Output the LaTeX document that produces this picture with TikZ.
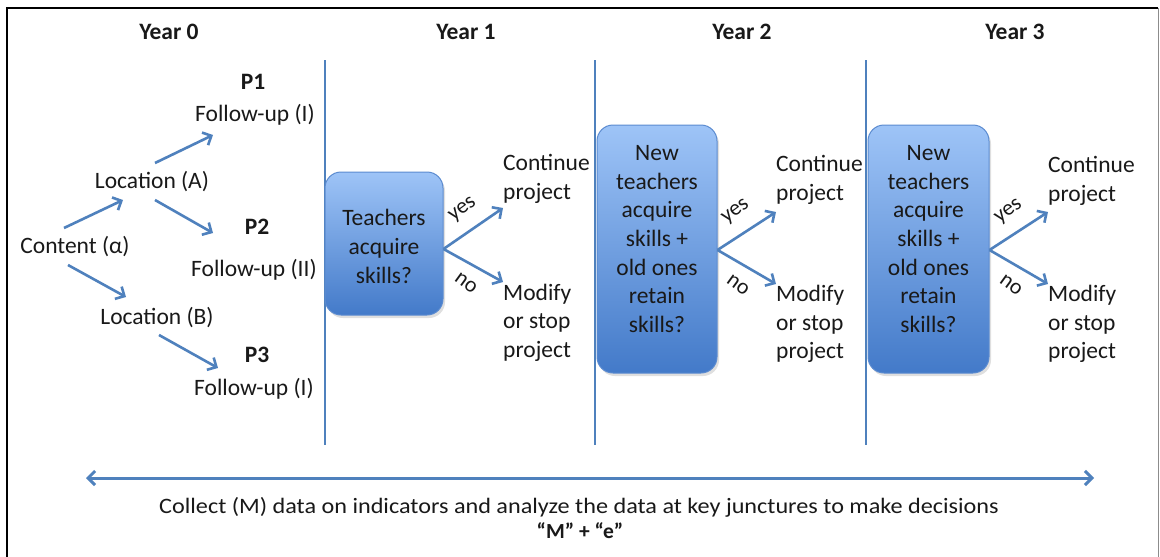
\documentclass[tikz,border=0pt]{standalone}
\usepackage{fontspec}
\setmainfont{Carlito}
\usetikzlibrary{arrows.meta,calc,shadows}
\definecolor{arrblue}{HTML}{4F81BD}
\definecolor{boxtop}{HTML}{9EC4F7}
\definecolor{boxbot}{HTML}{437AC9}
\definecolor{boxedge}{HTML}{5B8BD0}
\tikzset{
  txt/.style={inner sep=0pt, font=\fontsize{23.5}{28.6}\selectfont, text=black!90},
  btxt/.style={txt, font=\fontsize{23.5}{28.6}\selectfont\bfseries},
  arr/.style={draw=arrblue, line width=2.6pt, -{Straight Barb[length=7pt,width=14pt]}},
  divider/.style={draw=arrblue, line width=2.8pt},
  qbox/.style={draw=boxedge, line width=1pt, rounded corners=16pt, top color=boxtop, bottom color=boxbot,
    drop shadow={shadow xshift=2pt, shadow yshift=-3pt, opacity=0.25}},
  yn/.style={txt, font=\fontsize{22}{26}\selectfont},
  outc/.style={txt, align=left, anchor=west},
}
\begin{document}
\begin{tikzpicture}[x=1pt,y=-1pt]
\useasboundingbox (0,0) rectangle (1160,557);
\fill[white] (0,0) rectangle (1160,557);
% frame
\draw[black, line width=2.6pt] (7,557) -- (7,8) -- (1158,8);
\draw[black!45, line width=1pt] (1158.5,8) -- (1158.5,557);

% year headers
\node[btxt] (y0) at (169,32) {Year 0};
\node[btxt] (y1) at (466,32) {Year 1};
\node[btxt] (y2) at (742,32) {Year 2};
\node[btxt] (y3) at (1015,32) {Year 3};

% dividers
\draw[divider] (325,60) -- (325,445);
\draw[divider] (595,60) -- (595,445);
\draw[divider] (866,60) -- (866,445);

% year 0 tree
\node[btxt] (p1) at (253,82) {P1};
\node[txt] (f1) at (255,115) {Follow-up (I)};
\node[txt] (locA) at (152,182) {Location (A)};
\node[txt] (content) at (75,247) {Content (α)};
\node[btxt] (p2) at (257,227) {P2};
\node[txt] (f2) at (254,270) {Follow-up (II)};
\node[txt] (locB) at (157,318) {Location (B)};
\node[btxt] (p3) at (257,355) {P3};
\node[txt] (f3) at (254,389) {Follow-up (I)};

\draw[arr] ($(locA)+(3,-19)$) -- ($(f1)+(-42,20)$);
\draw[arr] ($(content)+(-11,-19)$) -- ($(locA)+(-29,18)$);
\draw[arr] ($(locA)+(3,18)$) -- ($(p2)+(-44,6)$);
\draw[arr] ($(content)+(-7,18)$) -- ($(locB)+(-31,-21)$);
\draw[arr] ($(locB)+(2,17)$) -- ($(p3)+(-39,13)$);

% year 1
\node[qbox, minimum width=118pt, minimum height=143pt] (box1) at (384,243.5) {};
\node[txt, align=center] (q1) at (384,246.5) {Teachers\\acquire\\skills?};
\coordinate (fk1) at ([yshift=-5.5pt]box1.east);
\coordinate (ye1) at (503,208);
\coordinate (no1) at (503,282);
\draw[arr] (fk1) -- (ye1);
\draw[arr] (fk1) -- (no1);
\node[yn, rotate=36] (yes1) at (463,210) {yes};
\node[yn, rotate=-36] (n1) at (466,283) {no};
\node[outc] (cont1) at (503,179) {Continue\\project};
\node[outc] (mod1) at (503,322.5) {Modify\\or stop\\project};

% year 2
\node[qbox, minimum width=120pt, minimum height=248pt] (box2) at (657,249) {};
\node[txt, align=center] (q2) at (657,239) {New\\teachers\\acquire\\skills +\\old ones\\retain\\skills?};
\coordinate (fk2) at ([yshift=-1pt]box2.east);
\coordinate (ye2) at (776,212);
\coordinate (no2) at (776,284);
\draw[arr] (fk2) -- (ye2);
\draw[arr] (fk2) -- (no2);
\node[yn, rotate=36] (yes2) at (736,212) {yes};
\node[yn, rotate=-36] (n2) at (738,285) {no};
\node[outc] (cont2) at (776,180) {Continue\\project};
\node[outc] (mod2) at (776,324) {Modify\\or stop\\project};

% year 3
\node[qbox, minimum width=121pt, minimum height=248pt] (box3) at (928.5,249) {};
\node[txt, align=center] (q3) at (928.5,239) {New\\teachers\\acquire\\skills +\\old ones\\retain\\skills?};
\coordinate (fk3) at ([yshift=-1pt]box3.east);
\coordinate (ye3) at (1048,212);
\coordinate (no3) at (1048,284);
\draw[arr] (fk3) -- (ye3);
\draw[arr] (fk3) -- (no3);
\node[yn, rotate=36] (yes3) at (1009,212) {yes};
\node[yn, rotate=-36] (n3) at (1011,285) {no};
\node[outc] (cont3) at (1048,181) {Continue\\project};
\node[outc] (mod3) at (1048,324) {Modify\\or stop\\project};

% bottom
\coordinate (bl) at (86,478);
\coordinate (br) at (1094,478);
\draw[arr, line width=3pt, {Straight Barb[length=7pt,width=14pt]}-{Straight Barb[length=7pt,width=14pt]}] (bl) -- (br);
\node[txt, font=\fontsize{22}{26}\selectfont, xscale=1.1] (collect) at (579,507) {Collect (M) data on indicators and analyze the data at key junctures to make decisions};
\node[btxt, font=\fontsize{21.5}{26}\selectfont\bfseries] (me) at (580,531) {“M” + “e”};
\end{tikzpicture}
\end{document}
